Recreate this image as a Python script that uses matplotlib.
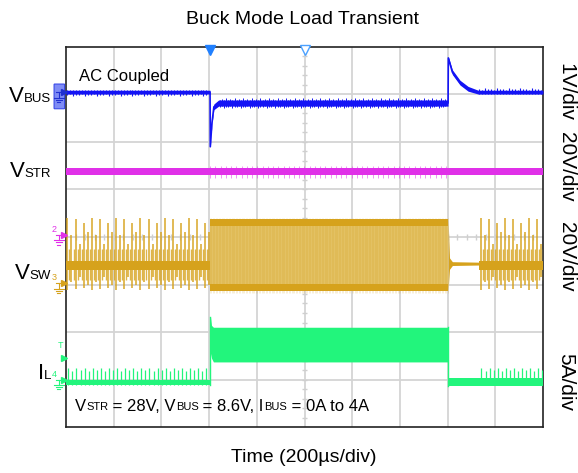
import matplotlib
matplotlib.use('Agg')
import matplotlib.pyplot as plt
import numpy as np
from matplotlib.patches import FancyBboxPatch
from matplotlib.transforms import IdentityTransform

plt.rcParams['font.family'] = ['Liberation Sans', 'DejaVu Sans']

W, H = 578, 473

# scope screen is 10 x 8 divisions, 200us/div
t_step = 3.02
t_release = 8.01
t_resume = 8.66
burst_period = 0.085

# VBUS (ch1, 1V/div, AC coupled)
vbus_t = [0.0, 3.02, 3.025, 3.06, 3.10, 3.20, 8.01, 8.015, 8.10, 8.26, 8.43, 8.64, 10.0]
vbus_mid = [7.05, 7.05, 5.90, 6.40, 6.74, 6.82, 6.82, 7.77, 7.47, 7.25, 7.12, 7.05, 7.05]
vbus_half = [0.04, 0.04, 0.02, 0.03, 0.06, 0.065, 0.065, 0.03, 0.05, 0.05, 0.05, 0.04, 0.04]
vbus_ripple = [0.07, 0.05, 0.09, 0.06]

# VSTR (ch2, 20V/div)
vstr_level = 5.38
vstr_half = 0.08

# VSW (ch3, 20V/div)
vsw_core = [3.30, 3.50]
vsw_burst_top = [4.40, 4.05, 4.38, 3.85, 4.30, 4.10]
vsw_burst_bot = [2.88, 3.05, 2.90, 3.15, 2.92, 3.00]
vsw_load = [2.86, 4.38]
vsw_rel_t = [8.01, 8.04, 8.10, 8.66]
vsw_rel_top = [4.38, 3.56, 3.48, 3.47]
vsw_rel_bot = [2.86, 3.32, 3.40, 3.41]

# IL (ch4, 5A/div)
il_t = [3.02, 3.03, 3.05, 3.09, 8.01]
il_top = [0.99, 2.32, 2.14, 2.10, 2.10]
il_bot = [0.88, 1.55, 1.45, 1.37, 1.37]
il_light = [0.88, 0.99]
il_after = [0.86, 1.03]
il_spike = [1.24, 1.18, 1.24, 1.20]

blue = '#1414f5'
magenta = '#e030e8'
gold = '#d6a21c'
gold_fill = '#e3c163'
green = '#22f57c'


def rich_text(fig, x, y, parts, ha='left', color='black'):
    # parts: (text, size, baseline shift in px); x, y in screen pixels
    r = fig.canvas.get_renderer()
    items = []
    for s, size, dy in parts:
        t = fig.text(0, 0, s, fontsize=size, color=color, transform=IdentityTransform(),
                     va='baseline', ha='left')
        items.append((t, t.get_window_extent(r).width, dy))
    total = sum(w for _, w, _ in items)
    cx = x - total if ha == 'right' else x
    for t, w, dy in items:
        t.set_position((cx, H - y - dy))
        cx += w


fig = plt.figure(figsize=(W / 100, H / 100), dpi=100)
ax = fig.add_axes([66 / W, 1 - 427 / H, 477 / W, 380 / H])
ax.set_xlim(0, 10)
ax.set_ylim(0, 8)
ax.set_xticks([])
ax.set_yticks([])
for s in ax.spines.values():
    s.set_linewidth(1.2)
    s.set_color('#222222')

# graticule
for i in range(1, 10):
    ax.axvline(i, color='#d4d4d4', lw=1.3, zorder=0)
for j in range(1, 8):
    ax.axhline(j, color='#d4d4d4', lw=1.3, zorder=0)
minor = np.arange(0.2, 10, 0.2)
ax.vlines(minor, 4 - 0.06, 4 + 0.06, color='#cfcfcf', lw=1, zorder=0)
ax.hlines(minor[minor < 8], 5 - 0.06, 5 + 0.06, color='#cfcfcf', lw=1, zorder=0)

# VBUS
vt = np.array(vbus_t)
vm = np.array(vbus_mid)
vh = np.array(vbus_half)
ax.fill_between(vt, vm - vh, vm + vh, color=blue, lw=0, zorder=4)
ax.plot(vt, vm, color=blue, lw=1.2, zorder=4)
ticks = np.arange(0.03, t_step - 0.02, 0.062)
dn = np.resize(vbus_ripple, len(ticks))
ax.vlines(ticks, vbus_mid[0] - dn, vbus_mid[0] + 0.05, color=blue, lw=0.8, zorder=4)
ticks = np.arange(3.22, t_release - 0.02, 0.045)
dn = np.resize(vbus_ripple, len(ticks))
ax.vlines(ticks, vbus_mid[5] - dn - 0.02, vbus_mid[5] + dn[::-1] + 0.01, color=blue, lw=0.7, zorder=4)
ticks = np.arange(8.66, 9.98, 0.062)
dn = np.resize(vbus_ripple, len(ticks))
ax.vlines(ticks, vbus_mid[-1] - 0.05, vbus_mid[-1] + dn, color=blue, lw=0.8, zorder=4)

# VSTR
ax.fill_between([0, 10], vstr_level - vstr_half, vstr_level + vstr_half, color=magenta, lw=0, zorder=3)
ticks = np.arange(t_step, t_release, 0.11)
ax.vlines(ticks, vstr_level - vstr_half - 0.06, vstr_level + vstr_half + 0.04, color=magenta, lw=0.6, alpha=0.6, zorder=3)

# VSW
for a, b in [(0, t_step), (t_resume, 10)]:
    ax.fill_between([a, b], vsw_core[0], vsw_core[1], color=gold, lw=0, zorder=3)
    ticks = np.arange(a + 0.03, b - 0.01, burst_period)
    ax.vlines(ticks, np.resize(vsw_burst_bot, len(ticks)), np.resize(vsw_burst_top, len(ticks)),
              color=gold, lw=1.1, alpha=0.95, zorder=3)
    ax.vlines(ticks + burst_period / 2, vsw_core[0] - 0.2, vsw_core[1] + 0.25,
              color=gold, lw=1.0, alpha=0.8, zorder=3)
ax.fill_between([t_step, t_release], vsw_load[0], vsw_load[1], color=gold_fill, lw=0, zorder=3)
ax.fill_between([t_step, t_release], vsw_load[1] - 0.14, vsw_load[1], color=gold, lw=0, zorder=3)
ax.fill_between([t_step, t_release], vsw_load[0], vsw_load[0] + 0.14, color=gold, lw=0, zorder=3)
ticks = np.arange(t_step, t_release, 0.03)
ax.vlines(ticks, vsw_load[0] - 0.03, vsw_load[1] + 0.02, color=gold, lw=0.4, alpha=0.3, zorder=3)
ax.fill_between(vsw_rel_t, vsw_rel_bot, vsw_rel_top, color=gold, lw=0, zorder=3)

# IL
for a, b in [(0, t_step), (t_resume, 10)]:
    ticks = np.arange(a + 0.05, b - 0.01, burst_period)
    ax.vlines(ticks, il_light[0], np.resize(il_spike, len(ticks)), color=green, lw=0.9, zorder=3)
ax.fill_between([0, t_step], il_light[0], il_light[1], color=green, lw=0, zorder=3)
ax.fill_between(il_t, il_bot, il_top, color=green, lw=0, zorder=3)
ax.plot([t_step, t_step], [il_light[0], il_top[1]], color=green, lw=1, zorder=3)
ax.fill_between([t_release, 10], il_after[0], il_after[1], color=green, lw=0, zorder=3)
ax.plot([t_release, t_release], [il_after[0], il_top[-1]], color=green, lw=1, zorder=3)

# trigger position markers
ax.plot([t_step], [7.93], marker='v', ms=7, color='#2080ff', clip_on=False, zorder=6)
ax.plot([5], [7.93], marker='v', ms=7, mfc='white', mec='#4aa0ff', mew=1, clip_on=False, zorder=6)


# channel ground markers on the left edge
def chan_marker(y, color, label, box=False):
    if box:
        ax.add_patch(FancyBboxPatch((-0.24, y - 0.34), 0.2, 0.5, boxstyle='round,pad=0.01',
                                    fc='#7f8cf5', ec='#3a4ae8', lw=0.8, clip_on=False, zorder=6))
    ax.plot([-0.05], [y], marker='>', ms=5, color=color, clip_on=False, zorder=7)
    ax.plot([-0.2, -0.07], [y, y], color=color, lw=0.8, clip_on=False, zorder=7)
    ax.plot([-0.15, -0.15], [y, y - 0.12], color=color, lw=0.8, clip_on=False, zorder=7)
    for k, w in enumerate([0.1, 0.065, 0.03]):
        yy = y - 0.12 - 0.045 * k
        ax.plot([-0.15 - w, -0.15 + w], [yy, yy], color=color, lw=0.8, clip_on=False, zorder=7)
    ax.text(-0.2, y + 0.02, label, fontsize=6.5, color=color, ha='right', va='bottom', zorder=7)


chan_marker(vbus_mid[0], '#2030d0', '', box=True)
chan_marker(4.05, magenta, '2')
chan_marker(3.03, gold, '3')
chan_marker(1.0, green, '4')
ax.plot([-0.05], [1.45], marker='>', ms=5, color=green, clip_on=False, zorder=7)
ax.text(-0.12, 1.62, 'T', fontsize=6.5, color=green, ha='center', va='bottom')

# texts
fig.text(303 / W, 1 - 19 / H, 'Buck Mode Load Transient', fontsize=14, ha='center', va='center')
fig.text(304 / W, 1 - 457 / H, 'Time (200\u00b5s/div)', fontsize=14, ha='center', va='center')
rich_text(fig, 79, 81, [('AC Coupled', 12, 0)])

rich_text(fig, 51, 102, [('V', 16, 0), ('BUS', 9.5, 0)], ha='right')
rich_text(fig, 51, 177, [('V', 16, 0), ('STR', 9.5, 0)], ha='right')
rich_text(fig, 51, 279, [('V', 16, 0), ('SW', 9.5, 0)], ha='right')
rich_text(fig, 51, 379, [('I', 16, 0), ('L', 9.5, 0)], ha='right')
rich_text(fig, 75, 411, [('V', 12, 0), ('STR', 8, -1), (' = 28V, V', 12, 0), ('BUS', 8, -1),
                         (' = 8.6V, I', 12, 0), ('BUS', 8, -1), (' = 0A to 4A', 12, 0)])

for label, yc in [('1V/div', 92), ('20V/div', 167), ('20V/div', 257), ('5A/div', 382)]:
    fig.text(566 / W, 1 - yc / H, label, fontsize=15, rotation=270, ha='center', va='center')

fig.savefig('out.png', dpi=100)
